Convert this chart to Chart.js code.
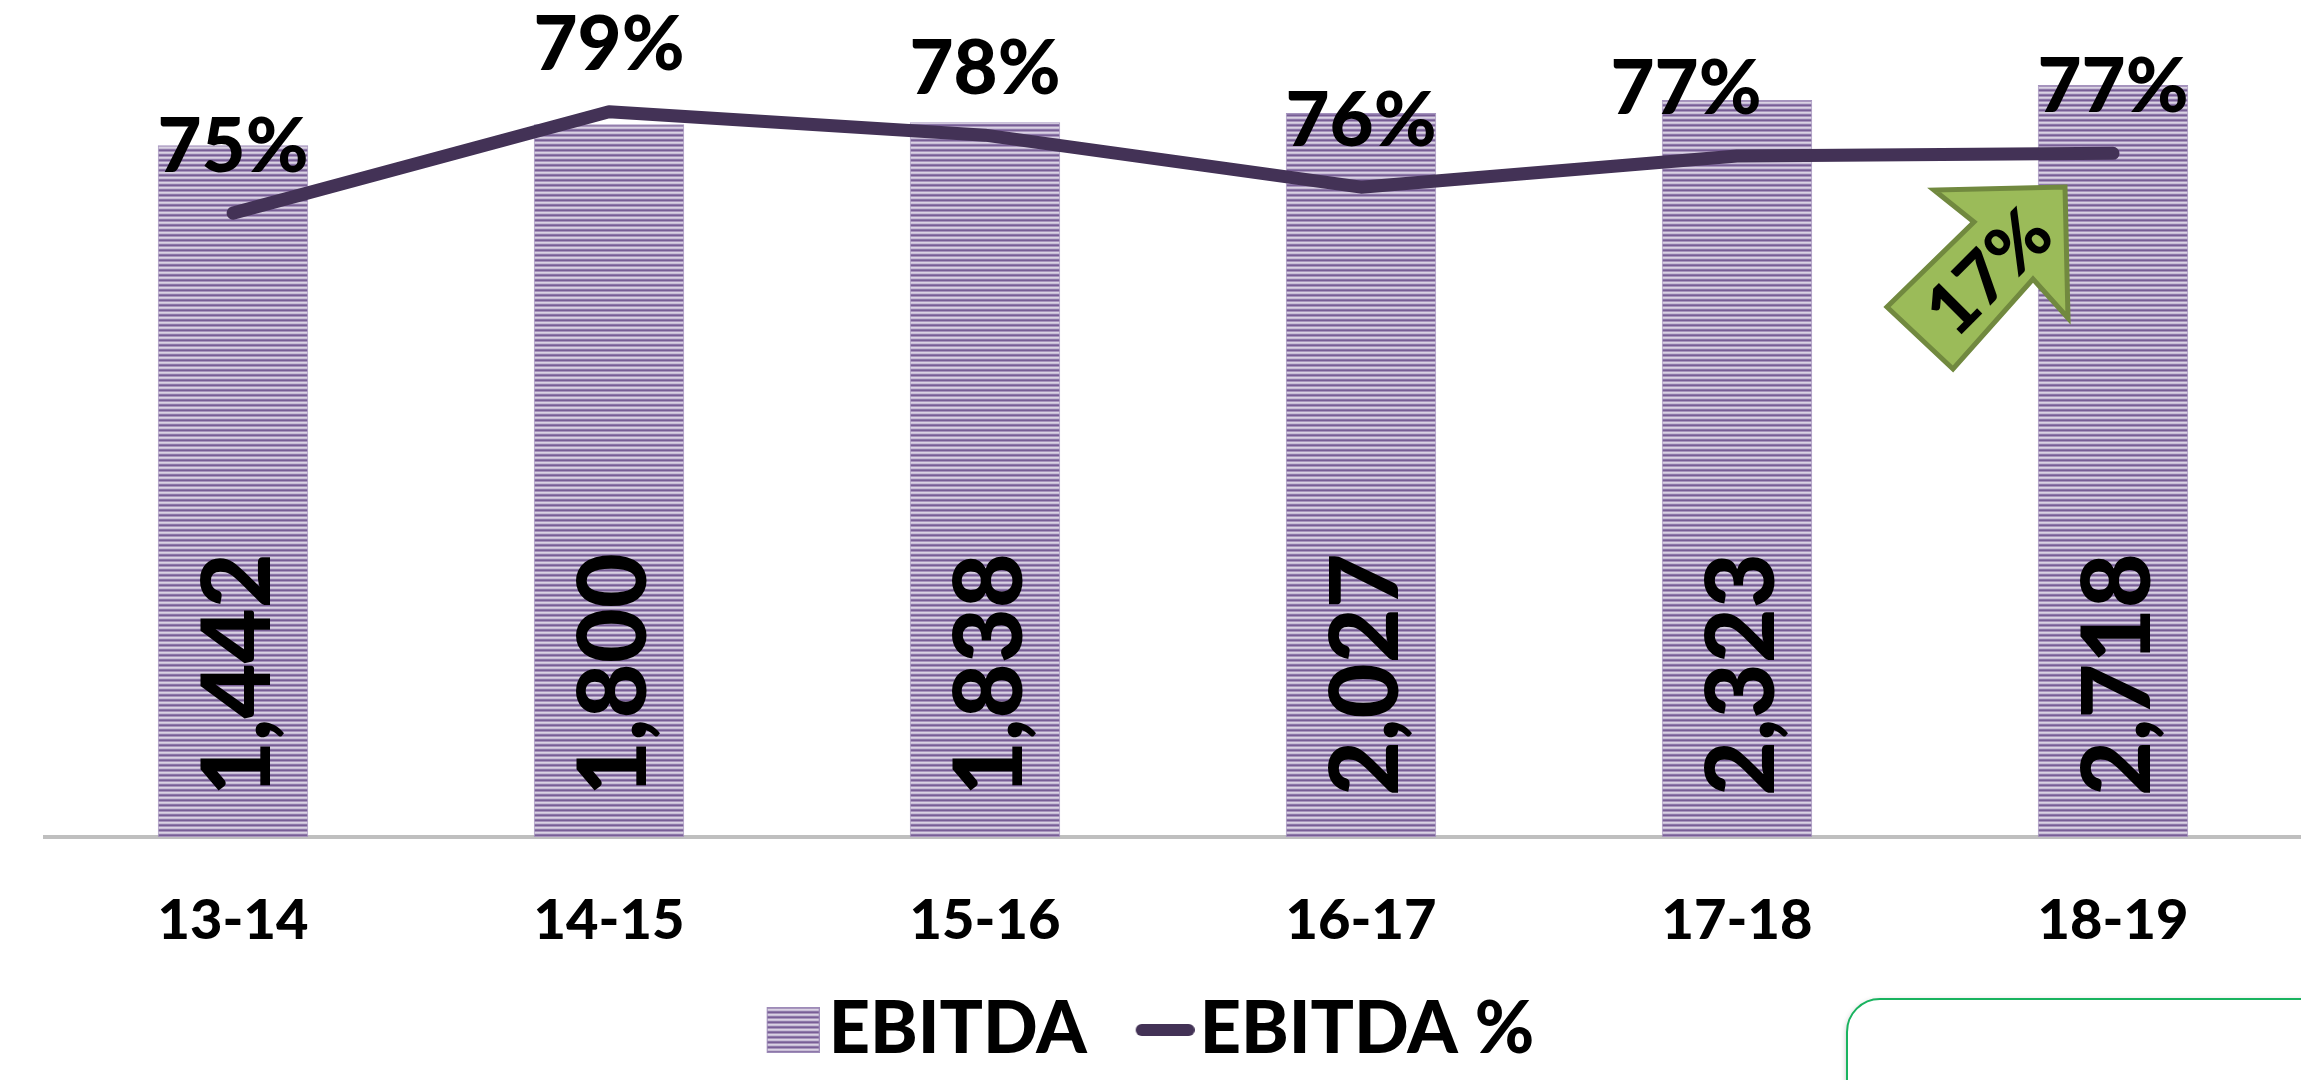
<!DOCTYPE html>
<html><head><meta charset="utf-8">
<style>html,body{margin:0;padding:0;background:#fff;overflow:hidden}canvas{display:block}</style>
<script src="https://cdn.jsdelivr.net/npm/chart.js@4"></script></head>
<body><div style="position:relative;width:2301px;height:1080px"><canvas id="c" width="2301" height="1080"></canvas></div>
<script>
const categories = ['13-14','14-15','15-16','16-17','17-18','18-19'];
const ebitda = [1442,1800,1838,2027,2323,2718];
const ebitdaPct = [75.0,78.9,78.0,76.0,77.2,77.3];
const FONT = 'Lato';
function pat(){const c=document.createElement('canvas');c.width=4;c.height=5;const x=c.getContext('2d');
 ['#785e96','#a895bd','#d9d2e3','#c8bdd6','#8d78a9'].forEach((k,i)=>{x.fillStyle=k;x.fillRect(0,i,4,1)});return c}
const pattern=document.createElement('canvas').getContext('2d').createPattern(pat(),'repeat');
function barSwatch(){const c=document.createElement('canvas');c.width=80;c.height=46;const x=c.getContext('2d');x.fillStyle=x.createPattern(pat(),'repeat');x.fillRect(27,0,53,46);x.strokeStyle='#9d8bb8';x.strokeRect(27.5,.5,52,45);return c}
function lineSwatch(){const c=document.createElement('canvas');c.width=88;c.height=14;const x=c.getContext('2d');x.strokeStyle='#433256';x.lineWidth=12;x.lineCap='round';x.beginPath();x.moveTo(35,7);x.lineTo(82,7);x.stroke();return c}
const swatches=[barSwatch(),lineSwatch()];
const overlay={id:'overlay',
 afterDatasetsDraw(ch){const x=ch.ctx;const bars=ch.getDatasetMeta(0).data,line=ch.getDatasetMeta(1).data;
  x.save();x.fillStyle='#000';x.textAlign='center';x.textBaseline='alphabetic';
  x.font='900 95px '+FONT;
  bars.forEach((b,i)=>{x.save();x.translate(b.x+37,ch.chartArea.bottom-41);x.rotate(-Math.PI/2);x.textAlign='left';x.fillText(ebitda[i].toLocaleString('en-US'),0,0);x.restore()});
  x.textBaseline='middle';
  x.font='900 76px '+FONT;
  line.forEach((p,i)=>{x.fillText(Math.round(ebitdaPct[i])+'%',bars[i].x-(i===4?51:0),p.y-66)});
  // growth arrow
  const pts=[[2065,187],[1934,190],[1974,222],[1887,307],[1953,369],[2033,279],[2068,318]];
  x.beginPath();pts.forEach((q,i)=>i?x.lineTo(q[0],q[1]):x.moveTo(q[0],q[1]));x.closePath();
  x.fillStyle='#9bbb59';x.fill();x.lineWidth=5;x.strokeStyle='#71893f';x.stroke();
  x.fillStyle='#000';x.save();x.translate(1990,273);x.rotate(-Math.PI/4);x.font='900 72px '+FONT;x.fillText('17%',0,0);x.restore();
  // callout box
  x.save();x.shadowColor='rgba(0,0,0,.3)';x.shadowBlur=6;x.shadowOffsetY=2;x.strokeStyle='#19b35f';x.lineWidth=2;x.fillStyle='#fff';
  x.beginPath();x.roundRect(1847,999,600,200,33);x.fill();x.shadowColor='transparent';x.stroke();x.restore();
  x.restore();
 }};
new Chart(document.getElementById('c'),{
 data:{labels:categories,datasets:[
  {type:'bar',label:'EBITDA',data:ebitda,yAxisID:'y',backgroundColor:pattern,borderColor:'#a493bd',borderWidth:1,barPercentage:.4,categoryPercentage:1,order:2},
  {type:'line',label:'EBITDA %',data:ebitdaPct,yAxisID:'y2',borderColor:'#433256',borderWidth:13,borderCapStyle:'round',borderJoinStyle:'round',tension:0,pointRadius:0,fill:false,order:1}
 ]},
 options:{responsive:false,animation:false,
  layout:{padding:{left:0,right:0,top:0,bottom:4}},
  scales:{
   x:{grid:{display:false,drawTicks:false},border:{color:'#bfbfbf',width:4},afterFit(s){s.height=106},ticks:{color:'#000',font:{family:FONT,weight:'900',size:56},padding:50,maxRotation:0}},
   y:{type:'logarithmic',position:'left',min:1,max:6650,grid:{display:false},border:{display:false},ticks:{display:false},afterFit(s){s.width=45}},
   y2:{type:'linear',display:false,min:51,max:83.2}
  },
  plugins:{tooltip:{enabled:false},
   legend:{position:'bottom',labels:{color:'#000',font:{family:FONT,weight:'900',size:72},usePointStyle:true,pointStyleWidth:26,padding:51,
    generateLabels(ch){return ch.data.datasets.map((d,i)=>({text:d.label,fontColor:'#000',pointStyle:swatches[i],datasetIndex:i,lineWidth:0,fillStyle:'#000',strokeStyle:'#000'}))}}}
  }
 },
 plugins:[overlay]
});
</script></body></html>
